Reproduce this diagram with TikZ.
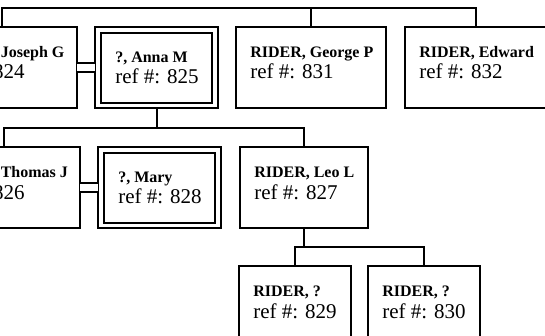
\documentclass[tikz,border=0pt]{standalone}
\usepackage{fontspec}
\setmainfont{Liberation Serif}
\usepackage{tikz}
\usetikzlibrary{positioning, calc}
\tikzstyle{link} = [line width=1.5pt, black]
\tikzstyle{marriage} = [line width=1.5pt, black, double, double distance=5.25pt]
\tikzset{
  personbox/.style={rectangle, draw, line width=1.5pt, anchor=north west, outer sep=0pt, minimum height=60.75pt},
  spousebox/.style={rectangle, draw, line width=1pt, anchor=north west, outer sep=0pt, minimum height=60.75pt},
  innerframe/.style={line width=1.5pt},
  nametext/.style={anchor=base west, inner sep=0pt, font=\fontsize{12}{14}\selectfont\bfseries},
  reftext/.style={anchor=base west, inner sep=0pt, font=\fontsize{15.75}{18}\selectfont}
}
\newcommand{\person}[5]{%
  \node[personbox, minimum width=#3] (#1) at (#2) {};
  \node[nametext] (#1name) at ([shift={(14,30)}]#1.north west) {#4};
  \node[reftext] (#1ref) at ([shift={(14,52)}]#1.north west) {ref \#: #5};}
\newcommand{\spouse}[5]{%
  \node[spousebox, minimum width=#3] (#1) at (#2) {};
  \draw[innerframe] ([shift={(6,6)}]#1.north west) rectangle ([shift={(-6,-5)}]#1.south east);
  \node[nametext] (#1name) at ([shift={(20,35)}]#1.north west) {#4};
  \node[reftext] (#1ref) at ([shift={(20,56)}]#1.north west) {ref \#: #5};}

\begin{document}
\begin{tikzpicture}[x=0.75pt, y=-0.75pt]
  \useasboundingbox (0,0) rectangle (545,335);
  \clip (0,0) rectangle (545,335);

  % Top generation
  \person{p824}{-73,27}{112.5pt}{RIDER, Joseph G}{824}
  \spouse{p825}{95,27}{92.25pt}{?, Anna M}{825}
  \person{p831}{236,27}{112.5pt}{RIDER, George P}{831}
  \person{p832}{405,27}{106.5pt}{RIDER, Edward}{832}

  % Children of Joseph and Anna
  \person{p826}{-73,147}{114.75pt}{RIDER, Thomas J}{826}
  \spouse{p828}{98,147}{92.25pt}{?, Mary}{828}
  \person{p827}{240,147}{96pt}{RIDER, Leo L}{827}

  % Children of Leo
  \person{p829}{239,266}{84pt}{RIDER, ?}{829}
  \person{p830}{368,266}{84pt}{RIDER, ?}{830}

  % Sibling bars
  \coordinate (bar1) at (0,8);
  \coordinate (bar2) at (0,128);
  \coordinate (bar3) at (0,247);
  \draw[link] (p824.north) -- (p824.north |- bar1) -| (p832.north);
  \draw[link] (p831.north) -- (p831.north |- bar1);
  \draw[link] (p825.south) -- (p825.south |- bar2);
  \draw[link] (p826.north) -- (p826.north |- bar2) -| (p827.north);
  \draw[link] (p827.south) -- (p827.south |- bar3);
  \draw[link] (p829.north) -- (p829.north |- bar3) -| (p830.north);

  % Marriages
  \draw[marriage] (p824.east) -- (p825.west);
  \draw[marriage] (p826.east) -- (p828.west);
\end{tikzpicture}
\end{document}
